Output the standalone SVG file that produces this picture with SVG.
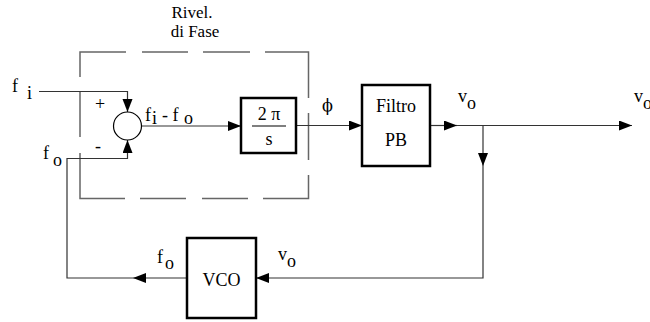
<svg xmlns="http://www.w3.org/2000/svg" width="650" height="322" viewBox="0 0 650 322" font-family="'Liberation Serif', 'Times New Roman', serif">
<style>
.c{fill:none;stroke:#333;stroke-width:1.2}
.d{fill:none;stroke:#666;stroke-width:1.5}
.b{fill:#fff;stroke:#000;stroke-width:2.5}
text{font-family:'Liberation Serif','Times New Roman',serif;font-size:18px;fill:#000}
.m{text-anchor:middle}
.t{font-size:17px}
.p{font-family:'DejaVu Serif',serif;font-size:16px}
</style>
<defs>
<marker id="a" markerUnits="userSpaceOnUse" markerWidth="14" markerHeight="11" refX="13" refY="5" orient="auto">
<path d="M0,0 L13,5 L0,10 z" fill="#000"/>
</marker>
</defs>
<g id="phase-detector-frame">
<path class="d" d="M80,77 V52 H126 M142,52 H188 M203,52 H250 M265,52 H308.5 V98 M308.5,113 V160 M308.5,175 V198.5 H263 M248,198.5 H202 M186,198.5 H140 M125,198.5 H80 V153 M80,137 V92"/>
<text class="m t" x="192" y="18">Rivel.</text>
<text class="m t" x="195" y="37">di Fase</text>
</g>
<g id="connectors">
<path class="c" d="M39,91.5 H127.5 V112" marker-end="url(#a)"/>
<path class="c" d="M187,278 H133" marker-end="url(#a)"/>
<path class="c" d="M133,278 H67 V158.5 H127.5 V140" marker-end="url(#a)"/>
<path class="c" d="M141.5,126 H241" marker-end="url(#a)"/>
<path class="c" d="M296,125.5 H362" marker-end="url(#a)"/>
<path class="c" d="M430,125.5 H457" marker-end="url(#a)"/>
<path class="c" d="M457,125.5 H632" marker-end="url(#a)"/>
<path class="c" d="M483,125.5 V166" marker-end="url(#a)"/>
<path class="c" d="M483,166 V278 H256" marker-end="url(#a)"/>
</g>
<g id="summer">
<circle cx="127.5" cy="126" r="14" fill="#fff" stroke="#000" stroke-width="1.2"/>
<text class="m" x="100" y="110">+</text>
<text class="m" x="98" y="152">-</text>
</g>
<g id="integrator">
<rect class="b" x="241" y="98" width="55" height="55"/>
<text class="m" x="269" y="120">2 π</text>
<line x1="252" y1="126" x2="286" y2="126" stroke="#000" stroke-width="1.2"/>
<text class="m" x="269" y="145">s</text>
</g>
<g id="filter">
<rect class="b" x="362" y="85" width="68" height="81"/>
<text class="m" x="396" y="112">Filtro</text>
<text class="m" x="396" y="146">PB</text>
</g>
<g id="vco">
<rect class="b" x="187" y="238" width="69" height="80"/>
<text class="m" x="221.5" y="286">VCO</text>
</g>
<g id="labels">
<text x="12" y="92">f<tspan x="27" y="99">i</tspan></text>
<text x="43" y="159">f<tspan x="53" y="166">o</tspan></text>
<text x="145" y="121">f<tspan x="152" y="124">i</tspan><tspan x="162" y="121">- f</tspan><tspan x="184" y="124">o</tspan></text>
<text class="p" x="322" y="111">ϕ</text>
<text x="458" y="102">v<tspan x="467" y="109">o</tspan></text>
<text x="634" y="102">v<tspan x="643" y="109">o</tspan></text>
<text x="157" y="263">f<tspan x="165" y="269">o</tspan></text>
<text x="278" y="260">v<tspan x="287" y="267">o</tspan></text>
</g>
</svg>
